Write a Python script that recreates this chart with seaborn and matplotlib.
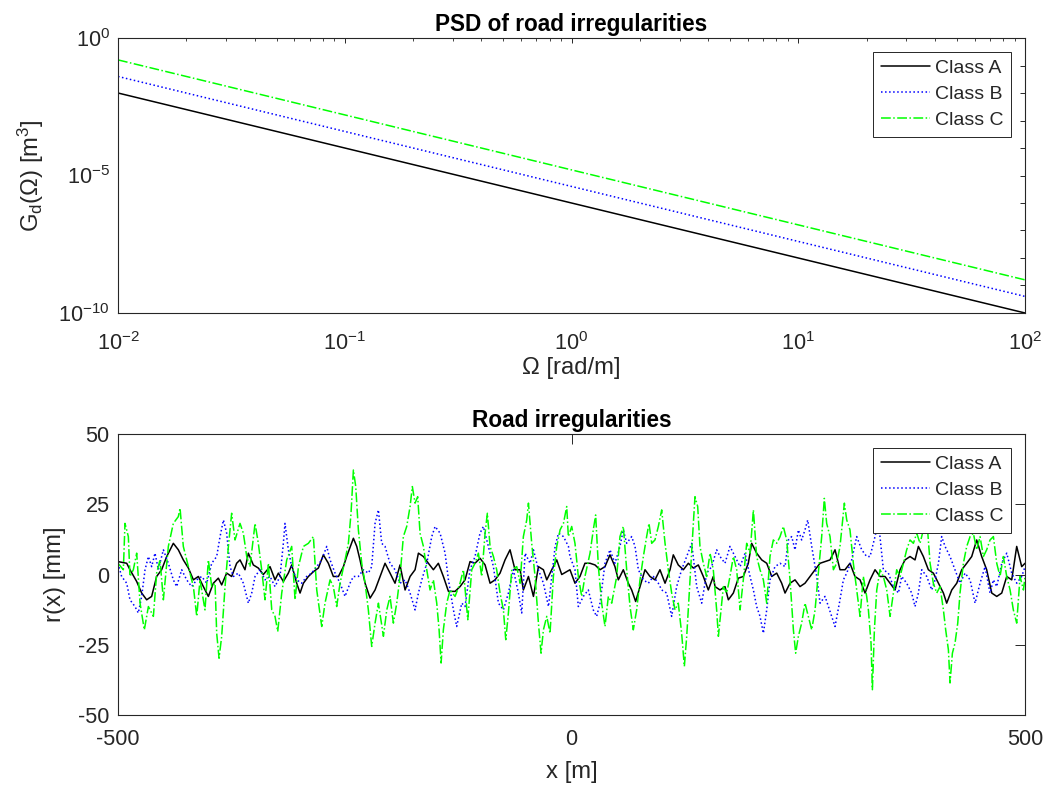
import numpy as np
import pandas as pd
import matplotlib
matplotlib.use("Agg")
import matplotlib.pyplot as plt
from matplotlib.ticker import FixedLocator, FuncFormatter, NullLocator
import seaborn as sns

# ---- PSD data (angular spatial frequency in rad/m, Gd in m^3) ----
omega = [1e-2, 1e-1, 1e0, 1e1, 1e2]
psd_a = [1e-2, 1e-4, 1e-6, 1e-8, 1e-10]
psd_b = [4e-2, 4e-4, 4e-6, 4e-8, 4e-10]
psd_c = [1.6e-1, 1.6e-3, 1.6e-5, 1.6e-7, 1.6e-9]

# ---- Road profiles (x in m, r in mm) ----
x_a = [-500,-490.4,-486.8,-479.4,-473.9,-468.4,-462.9,-457.4,-451.9,-446.3,-439,-433.5,-428,-422.4,-416.9,-411.4,-405.9,-400.4,-394.9,-389.4,-385.7,-380.2,-374.7,-369.2,-365.5,-360,-356.3,-350.8,-345.3,-339.8,
       -332.4,-326.9,-323.2,-317.7,-312.2,-308.5,-303,-299.3,-295.6,-290.1,-284.6,-279.1,-273.6,-268.1,-262.6,-257,-251.5,-247.9,-240.5,-236.8,-233.2,-227.6,-222.1,-216.6,-211.1,-205.6,-200.1,-194.6,-189.1,-183.5,-178,-172.5,
       -168.8,-163.3,-157.8,-152.3,-146.8,-141.3,-135.7,-128.4,-122.9,-117.4,-111.9,-106.4,-100.9,-95.3,-89.8,-84.3,-78.8,-73.3,-67.8,-62.3,-56.7,-53.1,-47.5,-42,-36.5,-31,-27.3,-21.8,-16.3,-10.8,
       -1.7,3.8,9.3,14.8,20.4,25.9,31.4,36.9,42.4,47.9,51.6,57.1,62.6,66.3,70.7,75.5,81,86.5,92,97.5,103.1,108.6,112.2,117.7,123.3,128.8,134.3,139.8,145.3,150.8,156.3,
       158.2,163.7,169.2,172.9,178.4,183.9,189.4,194.9,198.6,204.1,209.7,215.2,220.7,226.2,231.7,235.4,240.9,246.4,251.9,257.4,262.9,268.5,274,279.5,285,290.5,296,301.5,307,312.5,318.1,
       323.6,329.1,334.6,340.1,345.6,351.2,356.7,362.2,367.7,373.2,378.7,382.4,387.9,393.4,398.9,404.5,410,413.6,419.2,424.7,430.2,435.7,441.2,446.7,452.2,457.7,463.3,468.8,474.3,479.8,485.3,490.8,496.3,500]
r_a = [4.6,4,1.7,-2.5,-6.6,-9,-7.8,-0.7,1.7,6.4,11.1,8.8,5.2,2.3,-1.9,-0.7,-4.3,-7.8,-3.1,-1.3,-3.7,0.5,-0.7,4,5.2,1.7,7.6,3.4,2.3,0,
       2.8,-1.9,0.5,-2.5,0.5,3.4,-3.1,-6.6,-3.1,-0.7,1,2.3,7,4,-0.7,-0.7,2.8,6.4,12.9,10,5.2,-3.1,-8.4,-5.5,-0.7,4,0.5,-3.1,3.4,-5.5,-0.7,1.7,
       7.6,6.4,4,1.7,4,-0.7,-6,-6,-4.3,-1.9,4.6,4,5.8,3.4,-3.1,-1.9,0.5,5.2,8.8,1.7,1.7,-5.5,-0.7,-7.8,2.8,1.7,-1.9,1.7,5.2,0,
       1.7,-3.1,-0.7,4,4,3.4,1.7,2.8,7,2.8,-1.9,1.7,-3.1,-5.5,-9.6,-4.3,1.7,-0.7,-1.9,1.7,-3.1,1.7,7,3.4,1.7,4,2.3,3.4,-0.7,-5.5,-0.7,
       -4.3,-5.5,-4.3,-9,-6.6,-1.3,-0.7,4,11.1,7.6,5.2,4,-0.7,0.5,-3.1,-6.6,-3.1,-1.9,-4.3,-3.1,-0.7,1.7,4,4.6,5.2,8.8,1.7,1.7,4,-0.7,-1.9,
       -6.6,-1.9,1.7,-0.7,-0.7,-3.1,-5.5,1.7,5.2,6.4,5.2,10,6.4,1.7,0.5,-3.1,-6.6,-10.2,-5.5,-3.1,1.7,4,6.4,12.3,6.4,1.7,-6.6,-7.8,-6.6,-0.7,-1.9,10,2.8,4]

x_b = [-500,-496,-490.4,-486.8,-481.3,-477.6,-473.9,-470.2,-466.5,-462.9,-459.2,-455.5,-450,-444.5,-439,-435.3,-429.8,-424.3,-418.8,-413.2,-407.7,-402.2,-396.7,-391.2,-387.5,-383.8,-380.2,-376.5,-372.8,-367.3,-361.8,-356.3,-352.6,-348.9,-343.4,
       -337.9,-332.4,-326.9,-321.4,-317.7,-315.9,-312.2,-308.5,-303,-297.5,-292,-286.5,-280.9,-275.4,-269.9,-266.2,-260.7,-255.2,-249.7,-244.2,-240.5,-235,-229.5,-224,-220.3,-216.6,-212.9,-209.3,-205.6,-200.1,-194.6,-189.1,-183.5,-178,
       -172.5,-168.8,-165.1,-159.6,-154.1,-150.4,-144.9,-139.4,-135.7,-130.2,-126.6,-121,-117.4,-111.9,-106.4,-100.9,-97.2,-91.7,-86.1,-80.6,-75.1,-69.6,-64.1,-58.6,-54.9,-51.2,-45.7,-42,-36.5,-31,-25.4,-21.8,-18.1,-14.4,-8.9,-3.4,
       -1.7,3.8,7.5,13,18.5,24,27.7,31.4,36.9,42.4,47.9,53.4,57.1,60.8,66.3,70,73.7,79.2,84.7,90.2,95.7,99.4,104.9,110.4,115.9,121.4,127,132.5,138,143.5,149,154.5,160,
       163.7,169.2,174.7,180.2,185.8,191.3,196.8,200.5,204.1,207.8,211.5,215.2,218.8,224.3,229.9,235.4,239.1,242.7,246.4,250.1,253.7,257.4,260.4,264.8,270.3,274,279.5,283.2,286.8,290.5,296,299.7,303.4,308.9,314.4,319.9,325.4,
       329.1,334.6,338.3,343.8,349.3,354.8,360.4,364,369.5,375,378.7,382.4,386.1,391.6,397.1,400.8,404.5,408.1,411.8,417.3,422.8,428.3,433.9,439.4,444.9,450.4,455.9,461.4,465.1,468.8,474.3,479.8,485.3,490.8,496.3,500]
r_b = [4,-0.7,-3.1,-9,-11.4,-13.7,-7.8,1.7,6.4,2.8,7.6,1.7,8.8,4,-1.9,-4.3,1.7,-1.9,-4.3,-1.9,-0.7,-3.1,4,6.4,13.5,19.4,14.7,2.8,-0.7,0.5,-3.1,-10.2,-6.6,-0.7,1.7,
       -1.9,-0.7,-4.3,-0.7,11.1,18.2,8.8,2.8,-1.9,-3.1,-0.7,0.5,2.8,5.2,10,5.2,0.5,-3.1,-7.8,-3.1,-0.7,-0.7,1.7,0.5,2.8,18.2,23,11.1,10,4,1.7,-3.1,-1.9,-6.6,
       -12.6,-6.6,-1.9,4,13.5,17.1,14.7,7.6,-1.9,-12.6,-18.5,-10.2,-11.4,1.7,6.4,14.7,17.1,10,2.8,-10.2,-12.6,-6.6,1.7,-6.6,-13.7,7.6,4,8.8,1.7,-3.1,-11.4,-0.7,10,14.7,13.5,10,
       6.4,1.7,-11.4,-7.8,-5.5,-12.6,-14.9,-10.2,4,8.8,4,10,15.9,11.1,13.5,10,1.7,-1.9,-3.1,-0.7,-3.1,-5.5,-6.6,-14.9,-4.3,1.7,6.4,11.1,-4.3,-10.2,0.5,2.8,8.8,
       6.4,4,10,6.4,2.8,7.6,-0.7,-5.5,-11.4,-14.9,-20.9,-12.6,-1.9,2.8,4,2.8,12.3,13.5,8.8,15.9,12.3,15.9,19.4,10,-0.7,-10.2,-7.8,-11.4,-14.9,-18.5,-9,-1.9,0.5,5.2,13.5,8.8,6.4,
       6.4,13.5,19,1.7,0.5,-4.3,-6.6,-0.7,-3.1,-6.6,-11.4,-6.6,1.7,-0.7,-5.5,-1.9,4,13.5,10,6.4,1.7,-3.1,0.5,-1.9,-10.2,-3.1,2.8,-6.6,-1.9,-4.3,4,7.6,0.5,-3.1,-0.7,2.8]

x_c = [-500,-494.1,-492.3,-488.6,-486.8,-483.1,-479.4,-475.7,-471,-466.5,-461,-457.4,-453.7,-450,-444.5,-439,-433.5,-431.6,-428,-422.4,-416.9,-413.2,-409.6,-404.1,-400.4,-396.7,-393,-391.2,-388.6,-385.7,-382,-378.3,-374.7,-371,-365.5,-361.8,-358.1,-354.5,-348.9,-345.3,-341.6,
       -337.9,-334.2,-330.5,-326.9,-323.9,-319.5,-314,-308.5,-304.8,-301.1,-295.6,-290.1,-284.6,-280.9,-275.4,-271.8,-266.2,-262.6,-258.9,-255.2,-249.7,-246,-243.1,-240.5,-237.9,-235,-231.3,-227.6,-224,-220.3,-216.6,-212.9,-207.4,-203.7,-200.1,-196.4,-192.7,-189.1,-185.4,-181.7,-178,-175.5,
       -172.5,-169.6,-167,-163.3,-159.6,-156,-152.3,-148.6,-146,-143.8,-141.3,-137.6,-133.9,-128.4,-122.9,-119.2,-114.4,-110,-106.4,-102.7,-99,-95.3,-92.8,-89.8,-86.1,-82.5,-78.8,-75.1,-72.5,-69.6,-65.9,-60.4,-56.7,-53.1,-49.4,-47.5,-43.9,-40.2,-36.5,-33.6,-31,-27.3,-23.7,-20,-16.3,-12.6,-8.9,-5.3,
       -3.5,0.2,3.8,7.5,11.2,14.8,20.4,24,26.6,29.6,33.2,36.9,40.6,44.3,49.8,53.4,57.1,60.8,64.5,68.1,71.8,75.5,79.2,82.8,85.4,88.4,92,95.7,99.4,103.1,106.7,110.4,114.1,117.7,121.4,124.4,127,130.6,134.3,136.1,139.1,141.6,145.3,149,152.7,156.3,160,
       161.9,164.8,167.4,171.1,174.7,178.4,182.1,185.8,189.4,193.1,196.8,200.5,204.1,207.8,211.5,215.2,218.8,222.5,226.2,229.9,233.5,237.2,240.9,244.6,247.1,250.1,253.7,257.4,261.1,264.8,268.5,272.1,275.8,278.7,281.3,285,288.7,292.3,296,300.8,303.4,307,310.7,314.4,318.1,321.7,
       325.4,327.3,330.2,331.7,333.9,336.5,340.1,343.8,347.5,351.2,354.8,358.5,362.2,365.9,369.5,373.2,376.9,380.6,384.2,387.9,391.6,395.3,398.9,402.6,406.3,410,412.5,415.5,417.3,419.9,422.8,425.8,428.3,432,435.7,439.4,443,446.7,450.4,454.1,457.7,461.4,465.1,468.8,472.4,476.1,479.8,483.5,487.1,490.8,494.5,498.2,500]
r_c = [4,1.7,18.2,13.5,-0.7,1.7,7.6,-10.2,-19.7,-11.4,-14.9,0.5,5.2,-9,10,18.2,20.6,23.6,10,2.8,-4.3,-14.9,-1.9,-12.6,5.2,-4.3,-3.1,-20.9,-29.8,-22,-4.3,10,21.8,12.3,18.2,14.7,6.4,2.8,18.2,11.1,1.7,
       -9,4,-12.6,-14.9,-20.3,-6.6,5.2,10,-9,2.8,10,11.1,13.5,-5.5,-18.5,-10.2,-1.9,-4.3,-11.4,-3.1,5.2,11.1,21.8,37.2,31.3,15.9,4,-3.1,-12.6,-25.6,-17.3,-10.2,-22,-12.6,-7.8,-17.3,-10.2,-0.7,13.5,17.1,24.2,31.3,
       25.4,27.7,14.7,10,1.7,-5.5,-1.9,-10.2,-19.7,-31.5,-19.7,-10.2,-5.5,-7.8,-3.1,1.7,-16.1,1.7,4,7.6,-0.7,14.7,21.8,10,6.4,1.7,-6.6,-12.6,-23.2,-13.7,1.7,2.8,-3.1,13.5,19.4,25.4,11.1,-0.7,-17.3,-28,-19.7,-14.9,-20.9,-0.7,10,15.9,18.2,24.2,
       13.5,17.1,11.1,-0.7,-7.8,-0.7,7.6,15.9,21.2,2.8,-10.2,-18.5,-7.8,-10.2,-0.7,13.5,17.1,1.7,-11.4,-19.7,-12.6,-1.9,6.4,13.5,18.2,11.1,12.3,17.1,23,11.1,1.7,-6.6,-12.6,-10.2,-20.9,-32.7,-22,-1.9,18.2,27.7,24.2,10,4,-0.7,7.6,1.7,-12.6,
       -22,-12.6,-4.3,-6.6,-0.7,6.4,1.7,-12.6,-1.9,11.1,7.6,23,6.4,1.7,-1.9,-10.2,6.4,12.3,11.1,13.5,17.1,12.3,-1.9,-19.7,-28,-22,-17.3,-10.2,-14.9,-19.7,-12.6,0.5,13.5,27.1,18.2,13.5,1.7,4,10,25.4,19.4,15.9,4,-5.5,-14.9,-0.7,
       -7.8,-12.6,-24.4,-41,-19.7,-5.5,1.7,-0.7,-5.5,-14.9,-6.6,1.7,-0.7,4,8.8,12.3,11.1,14.7,11.1,15.9,20,4,-3.1,-6.6,-4.3,-12.6,-19.7,-26.8,-38.6,-28,-24.4,-17.3,-6.6,4,10,13.5,14.7,8.8,13.5,6.4,8.8,12.3,13.5,4,-0.7,6.4,-0.7,-5.5,-12.6,-17.3,-0.7,-5.5,-0.7]

labels = ["Class A", "Class B", "Class C"]
colors = ["#000000", "#0000ff", "#00ff00"]
styles = ["-", ":", "-."]

sns.set_theme(style="white")
plt.rcParams["font.family"] = ["Liberation Sans", "DejaVu Sans"]
plt.rcParams["mathtext.fontset"] = "custom"
plt.rcParams["mathtext.rm"] = "Liberation Sans"
plt.rcParams["mathtext.it"] = "Liberation Sans:italic"
plt.rcParams["mathtext.default"] = "regular"
plt.rcParams["axes.unicode_minus"] = False

INK = "#262626"
TICK_FS = 15.6
LAB_FS = 17.2
LEG_FS = 14.0
TFS = 16.3

fig = plt.figure(figsize=(10.48, 7.87), dpi=100)
ax1 = fig.add_axes([0.1126, 0.6023, 0.8655, 0.3494])
ax2 = fig.add_axes([0.1126, 0.0915, 0.8655, 0.3570])

psd_df = pd.DataFrame({"omega": omega * 3,
                       "Gd": psd_a + psd_b + psd_c,
                       "cls": [labels[0]] * 5 + [labels[1]] * 5 + [labels[2]] * 5})
for lab, col, ls in zip(labels, colors, styles):
    sub = psd_df[psd_df["cls"] == lab]
    sns.lineplot(data=sub, x="omega", y="Gd", ax=ax1, color=col, linestyle=ls,
                 linewidth=1.1, label=lab)
ax1.set_xscale("log")
ax1.set_yscale("log")
ax1.set_xlim(1e-2, 1e2)
ax1.set_ylim(1e-10, 1e0)
ax1.yaxis.set_major_locator(FixedLocator([10.0 ** e for e in range(-10, 1)]))
ax1.yaxis.set_minor_locator(NullLocator())


def ylab(v, pos):
    e = int(round(np.log10(v)))
    return r"$10^{%d}$" % e if e % 5 == 0 else ""


ax1.yaxis.set_major_formatter(FuncFormatter(ylab))
ax1.xaxis.set_major_formatter(FuncFormatter(lambda v, p: r"$10^{%d}$" % int(round(np.log10(v)))))
ax1.set_title("PSD of road irregularities", fontsize=TFS, fontweight="bold", color="black", pad=5)
ax1.set_xlabel("Ω [rad/m]", fontsize=LAB_FS, color=INK, labelpad=1)
ax1.set_ylabel(r"G$_{d}$(Ω) [m$^{3}$]", fontsize=LAB_FS, color=INK, labelpad=9)

profiles = [(x_a, r_a), (x_b, r_b), (x_c, r_c)]
for (xs, rs), lab, col, ls in zip(profiles, labels, colors, styles):
    sns.lineplot(x=xs, y=rs, ax=ax2, color=col, linestyle=ls, linewidth=1.1, label=lab)
ax2.set_xlim(-500, 500)
ax2.set_ylim(-50, 50)
ax2.set_xticks([-500, 0, 500])
ax2.set_yticks([-50, -25, 0, 25, 50])
ax2.set_title("Road irregularities", fontsize=TFS, fontweight="bold", color="black", pad=5)
ax2.set_xlabel("x [m]", fontsize=LAB_FS, color=INK, labelpad=8)
ax2.set_ylabel("r(x) [mm]", fontsize=LAB_FS, color=INK, labelpad=9)

for ax, tl in ((ax1, 3.5), (ax2, 7)):
    for s in ax.spines.values():
        s.set_visible(True)
        s.set_color(INK)
        s.set_linewidth(0.8)
    ax.tick_params(which="major", direction="in", length=tl, width=0.7, colors=INK,
                   labelsize=TICK_FS, top=True, right=True, labelcolor=INK)
    ax.tick_params(which="minor", direction="in", length=tl * 0.6, width=0.6, colors=INK,
                   top=True, right=True)
    ax.tick_params(axis="y", which="major", pad=6)
    ax.grid(False)
    leg = ax.legend(loc="upper right", fontsize=LEG_FS, fancybox=False, framealpha=1,
                    edgecolor=INK, handlelength=2.5, handletextpad=0.28,
                    borderpad=0.41, labelspacing=0.42, borderaxespad=0.7)
    leg.get_frame().set_linewidth(0.7)
ax1.tick_params(axis="x", which="major", pad=14)
ax2.tick_params(axis="x", which="major", pad=10)

fig.savefig("out.png", dpi=100, facecolor="white")
